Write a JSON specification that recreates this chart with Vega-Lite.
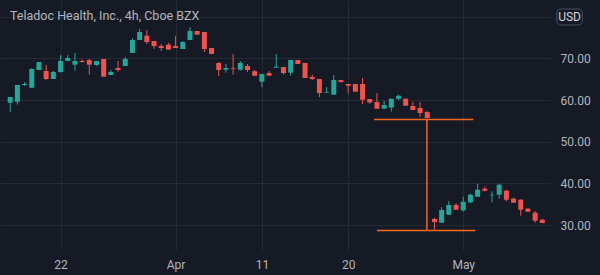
{
  "$schema": "https://vega.github.io/schema/vega-lite/v6.json",
  "width": 550,
  "height": 250,
  "padding": 0,
  "autosize": {"type": "pad"},
  "background": "#161a25",
  "title": {
    "text": "Teladoc Health, Inc., 4h, Cboe BZX",
    "anchor": "start",
    "frame": "group",
    "offset": -22,
    "dx": 10,
    "font": "Roboto",
    "fontSize": 12.5,
    "fontWeight": "normal",
    "color": "#b2b5be"
  },
  "config": {
    "view": {"stroke": null},
    "axis": {
      "labelFont": "Roboto",
      "labelFontSize": 12,
      "labelColor": "#b2b5be",
      "gridColor": "#252a35",
      "gridWidth": 1,
      "domain": false,
      "ticks": false,
      "tickSize": 0,
      "title": null,
      "zindex": 0
    }
  },
  "datasets": {
    "candles": [
      {"i": 0, "open": 59.36, "high": 60.72, "low": 57.2, "close": 60.72},
      {"i": 1, "open": 59.6, "high": 63.6, "low": 58.9, "close": 63.6},
      {"i": 2, "open": 63.6, "high": 64.3, "low": 63.36, "close": 63.84},
      {"i": 3, "open": 62.96, "high": 67.6, "low": 62.96, "close": 67.44},
      {"i": 4, "open": 67.2, "high": 69.1, "low": 67.2, "close": 69.1},
      {"i": 5, "open": 66.96, "high": 68.4, "low": 64.8, "close": 65.04},
      {"i": 6, "open": 65.04, "high": 66.96, "low": 65.04, "close": 66.72},
      {"i": 7, "open": 66.72, "high": 70.8, "low": 66.56, "close": 69.36},
      {"i": 8, "open": 69.36, "high": 70.8, "low": 69.36, "close": 70.08},
      {"i": 9, "open": 68.48, "high": 71.28, "low": 67.04, "close": 69.36},
      {"i": 10, "open": 69.36, "high": 69.76, "low": 69.0, "close": 69.12},
      {"i": 11, "open": 69.6, "high": 69.84, "low": 66.08, "close": 68.48},
      {"i": 12, "open": 68.4, "high": 69.36, "low": 68.24, "close": 69.36},
      {"i": 13, "open": 69.84, "high": 69.84, "low": 65.6, "close": 65.6},
      {"i": 14, "open": 66.0, "high": 67.2, "low": 66.0, "close": 66.72},
      {"i": 15, "open": 67.68, "high": 69.36, "low": 66.8, "close": 67.2},
      {"i": 16, "open": 68.16, "high": 70.32, "low": 68.16, "close": 69.84},
      {"i": 17, "open": 71.28, "high": 74.8, "low": 71.28, "close": 74.4},
      {"i": 18, "open": 74.4, "high": 77.04, "low": 74.4, "close": 76.32},
      {"i": 19, "open": 75.44, "high": 76.8, "low": 73.44, "close": 73.92},
      {"i": 20, "open": 74.16, "high": 74.16, "low": 72.24, "close": 72.96},
      {"i": 21, "open": 72.96, "high": 73.44, "low": 71.76, "close": 72.48},
      {"i": 22, "open": 73.28, "high": 73.68, "low": 72.08, "close": 72.08},
      {"i": 23, "open": 72.96, "high": 75.36, "low": 72.48, "close": 72.48},
      {"i": 24, "open": 72.24, "high": 74.16, "low": 72.24, "close": 73.92},
      {"i": 25, "open": 74.4, "high": 77.52, "low": 74.4, "close": 76.56},
      {"i": 26, "open": 76.56, "high": 76.56, "low": 75.68, "close": 75.68},
      {"i": 27, "open": 76.32, "high": 76.32, "low": 71.52, "close": 72.24},
      {"i": 28, "open": 72.48, "high": 72.48, "low": 71.04, "close": 71.04},
      {"i": 29, "open": 68.88, "high": 69.12, "low": 65.76, "close": 67.2},
      {"i": 30, "open": 67.28, "high": 68.64, "low": 66.56, "close": 67.68},
      {"i": 31, "open": 67.68, "high": 71.04, "low": 66.08, "close": 67.52},
      {"i": 32, "open": 67.28, "high": 69.36, "low": 67.04, "close": 68.88},
      {"i": 33, "open": 68.16, "high": 68.64, "low": 66.72, "close": 67.2},
      {"i": 34, "open": 66.88, "high": 67.2, "low": 65.84, "close": 65.84},
      {"i": 35, "open": 64.4, "high": 66.24, "low": 63.12, "close": 66.24},
      {"i": 36, "open": 66.48, "high": 66.96, "low": 65.84, "close": 65.84},
      {"i": 37, "open": 67.76, "high": 71.04, "low": 67.76, "close": 68.0},
      {"i": 38, "open": 67.92, "high": 67.92, "low": 66.08, "close": 66.48},
      {"i": 39, "open": 66.56, "high": 69.6, "low": 65.84, "close": 69.6},
      {"i": 40, "open": 69.6, "high": 69.6, "low": 68.64, "close": 68.64},
      {"i": 41, "open": 68.88, "high": 68.88, "low": 65.28, "close": 65.28},
      {"i": 42, "open": 65.52, "high": 66.08, "low": 64.8, "close": 65.04},
      {"i": 43, "open": 65.04, "high": 65.04, "low": 60.72, "close": 61.68},
      {"i": 44, "open": 61.76, "high": 63.12, "low": 61.76, "close": 61.92},
      {"i": 45, "open": 61.27, "high": 65.99, "low": 61.27, "close": 64.79},
      {"i": 46, "open": 64.79, "high": 64.79, "low": 64.15, "close": 64.31},
      {"i": 47, "open": 63.83, "high": 63.83, "low": 61.59, "close": 63.43},
      {"i": 48, "open": 63.83, "high": 63.83, "low": 61.99, "close": 61.99},
      {"i": 49, "open": 63.83, "high": 65.27, "low": 59.03, "close": 60.07},
      {"i": 50, "open": 60.23, "high": 60.23, "low": 59.11, "close": 59.43},
      {"i": 51, "open": 59.51, "high": 61.67, "low": 57.91, "close": 57.91},
      {"i": 52, "open": 57.91, "high": 59.75, "low": 57.91, "close": 58.79},
      {"i": 53, "open": 58.19, "high": 60.31, "low": 57.19, "close": 60.31},
      {"i": 54, "open": 60.31, "high": 61.27, "low": 59.99, "close": 61.03},
      {"i": 55, "open": 60.31, "high": 60.31, "low": 58.63, "close": 58.63},
      {"i": 56, "open": 58.55, "high": 59.59, "low": 57.59, "close": 57.59},
      {"i": 57, "open": 58.07, "high": 59.51, "low": 55.91, "close": 56.87},
      {"i": 58, "open": 57.11, "high": 57.35, "low": 55.67, "close": 55.67},
      {"i": 59, "open": 31.43, "high": 31.75, "low": 28.71, "close": 30.71},
      {"i": 60, "open": 30.55, "high": 34.31, "low": 30.55, "close": 33.59},
      {"i": 61, "open": 32.47, "high": 35.75, "low": 32.47, "close": 34.79},
      {"i": 62, "open": 34.79, "high": 35.27, "low": 33.67, "close": 33.67},
      {"i": 63, "open": 33.51, "high": 36.79, "low": 33.19, "close": 35.59},
      {"i": 64, "open": 35.43, "high": 37.51, "low": 35.19, "close": 37.27},
      {"i": 65, "open": 36.79, "high": 39.91, "low": 36.79, "close": 38.47},
      {"i": 66, "open": 38.71, "high": 39.19, "low": 38.07, "close": 38.23},
      {"i": 67, "open": 37.11, "high": 38.07, "low": 35.43, "close": 37.27},
      {"i": 68, "open": 37.27, "high": 39.91, "low": 36.31, "close": 39.67},
      {"i": 69, "open": 38.23, "high": 38.47, "low": 35.67, "close": 36.07},
      {"i": 70, "open": 36.31, "high": 36.55, "low": 35.35, "close": 35.35},
      {"i": 71, "open": 36.07, "high": 36.2, "low": 32.23, "close": 33.67},
      {"i": 72, "open": 33.91, "high": 34.15, "low": 33.19, "close": 33.19},
      {"i": 73, "open": 32.95, "high": 33.35, "low": 30.55, "close": 31.03},
      {"i": 74, "open": 31.27, "high": 31.51, "low": 30.47, "close": 30.47}
    ],
    "drawing": [
      {"from": 50.6, "to": 64.4, "priceFrom": 55.35, "priceTo": 55.35},
      {"from": 57.95, "to": 57.95, "priceFrom": 55.35, "priceTo": 28.7},
      {"from": 51.0, "to": 64.7, "priceFrom": 28.7, "priceTo": 28.7}
    ],
    "badge": [
      {"unit": "USD"}
    ]
  },
  "layer": [
    {
      "data": {"name": "candles"},
      "mark": {"type": "rule", "strokeWidth": 1},
      "encoding": {
        "x": {
          "field": "i",
          "type": "quantitative",
          "scale": {"domain": [-0.724, 74.372], "nice": false, "zero": false},
          "axis": {
            "orient": "bottom",
            "values": [7, 23, 35, 47, 63],
            "labelExpr": "datum.value == 7 ? '22' : datum.value == 23 ? 'Apr' : datum.value == 35 ? '11' : datum.value == 47 ? '20' : 'May'",
            "grid": true,
            "labelPadding": 9,
            "minExtent": 25,
            "maxExtent": 25
          }
        },
        "y": {
          "field": "low",
          "type": "quantitative",
          "scale": {"domain": [24, 84], "nice": false, "zero": false},
          "axis": {
            "orient": "right",
            "values": [30, 40, 50, 60, 70, 80],
            "labelExpr": "datum.value == 80 ? '' : format(datum.value, '.2f')",
            "grid": true,
            "labelPadding": 10,
            "minExtent": 50,
            "maxExtent": 50
          }
        },
        "y2": {"field": "high"},
        "color": {
          "condition": {"test": "datum.close >= datum.open", "value": "#26a69a"},
          "value": "#ef5350"
        }
      }
    },
    {
      "data": {"name": "candles"},
      "mark": {"type": "bar", "width": 5},
      "encoding": {
        "x": {"field": "i", "type": "quantitative"},
        "y": {"field": "open", "type": "quantitative"},
        "y2": {"field": "close"},
        "color": {
          "condition": {"test": "datum.close >= datum.open", "value": "#26a69a"},
          "value": "#ef5350"
        }
      }
    },
    {
      "data": {"name": "drawing"},
      "mark": {"type": "rule", "color": "#f7671c", "strokeWidth": 1.5},
      "encoding": {
        "x": {"field": "from", "type": "quantitative"},
        "x2": {"field": "to"},
        "y": {"field": "priceFrom", "type": "quantitative"},
        "y2": {"field": "priceTo"}
      }
    },
    {
      "data": {"name": "badge"},
      "mark": {"type": "rect", "fill": "#161a25", "stroke": "#4a4e5a", "strokeWidth": 1, "cornerRadius": 4},
      "encoding": {
        "x": {"datum": 76.01},
        "x2": {"datum": 79.56},
        "y": {"datum": 81.84},
        "y2": {"datum": 78.0}
      }
    },
    {
      "data": {"name": "badge"},
      "mark": {"type": "text", "font": "Roboto", "fontSize": 12, "color": "#d1d4dc", "align": "center", "baseline": "middle"},
      "encoding": {
        "x": {"datum": 77.79},
        "y": {"datum": 79.92},
        "text": {"field": "unit"}
      }
    }
  ]
}
